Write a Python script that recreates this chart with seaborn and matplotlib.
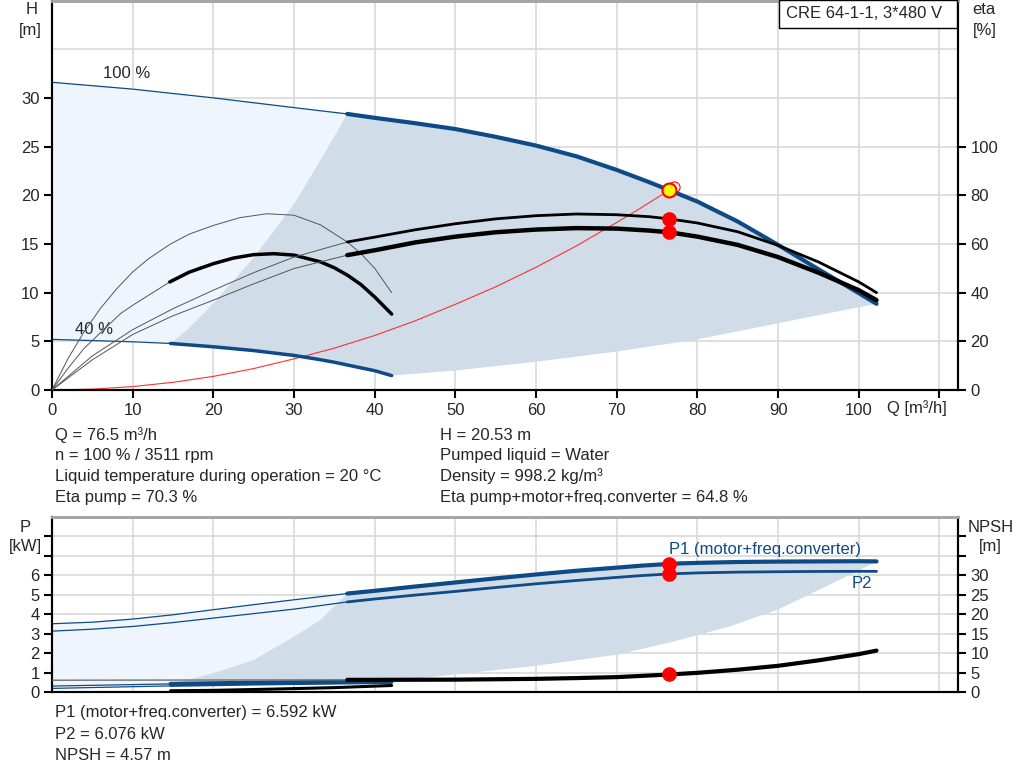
import matplotlib
matplotlib.use("Agg")
import matplotlib.pyplot as plt
import matplotlib.patches as patches
import seaborn as sns

# ---- operating point ----
q_op = 76.5
h_op = 20.53
eta_pump_op = 70.3
eta_total_op = 64.8
p1_op = 6.592
p2_op = 6.076
npsh_op = 4.57

# ---- head curves [m] ----
q_h100_thin = [0, 10, 20, 30, 36.6]
h_h100_thin = [31.6, 30.9, 30.0, 29.0, 28.35]
q_h100 = [36.6, 40, 45, 50, 55, 60, 65, 70, 74, 76.5, 80, 85, 90, 95, 100, 102.2]
h_h100 = [28.35, 27.95, 27.4, 26.8, 26.0, 25.1, 24.0, 22.6, 21.35, 20.53, 19.35,
          17.3, 14.9, 12.4, 9.95, 8.85]

q_h40_thin = [0, 10, 14.7]
h_h40_thin = [5.2, 4.95, 4.78]
q_h40 = [14.7, 20, 25, 30, 33, 35, 37, 40, 42.1]
h_h40 = [4.78, 4.44, 4.05, 3.55, 3.15, 2.85, 2.5, 1.98, 1.48]

# boundaries of the operating range
q_minflow = [14.7, 16.7, 20, 25, 30, 34.2, 36.6]
h_minflow = [4.78, 6.15, 8.9, 13.6, 19.1, 24.9, 28.35]
q_maxflow = [42.1, 50, 60, 70, 80, 90, 96, 102.2]
h_maxflow = [1.48, 2.0, 2.9, 3.95, 5.2, 6.85, 7.85, 8.85]

# system curve
q_sys = [0, 5, 10, 15, 20, 25, 30, 35, 40, 45, 50, 55, 60, 65, 70, 73, 76.5, 77.1]
h_sys = [0, 0.09, 0.35, 0.79, 1.4, 2.2, 3.2, 4.3, 5.6, 7.1, 8.8, 10.6, 12.6,
         14.8, 17.2, 18.7, 20.53, 20.85]

# ---- efficiency curves [%] ----
q_etap_thin = [0, 5, 10, 15, 20, 25, 30, 36.6]
etap_thin = [0, 14, 24.8, 33.4, 41, 48.2, 54.6, 60.8]
q_etap = [36.6, 40, 45, 50, 55, 60, 65, 70, 74, 76.5, 80, 85, 90, 95, 100, 102.2]
etap = [60.8, 62.8, 65.8, 68.3, 70.3, 71.6, 72.3, 72.0, 71.2, 70.3, 68.6, 65.0,
        59.4, 52.6, 44.4, 40.0]

q_etat_thin = [0, 5, 10, 15, 20, 25, 30, 36.6]
etat_thin = [0, 12.4, 22.8, 30.5, 36.9, 43.6, 49.9, 55.4]
q_etat = [36.6, 40, 45, 50, 55, 60, 65, 70, 74, 76.5, 80, 85, 90, 95, 100, 102.2]
etat = [55.4, 57.4, 60.6, 63.0, 64.8, 65.9, 66.5, 66.3, 65.5, 64.8, 63.0, 59.6,
        54.6, 48.2, 41.0, 36.9]

q_etap40 = [0, 2, 4, 6, 8, 10, 12, 14.7, 17, 20, 23.3, 26.6, 30, 33.3, 36.6,
            38.3, 40, 42.1]
etap40 = [0, 13, 24, 33.5, 41.5, 48.5, 54, 60, 64, 67.6, 70.8, 72.4, 71.8, 67.8,
          60.8, 56, 50, 40]

q_etat40_thin = [0, 2, 4, 8.5, 10, 14.6]
etat40_thin = [0, 9, 17.2, 31.4, 34.8, 44.4]
q_etat40 = [14.6, 17, 20, 22.5, 25, 27.5, 30, 33.3, 35, 36.6, 38.3, 40, 42.1]
etat40 = [44.4, 48.4, 51.9, 54.2, 55.6, 56.0, 55.4, 52.6, 50.2, 47.2, 43.3, 38.2, 31.2]

# ---- power curves [kW] ----
q_p_thin = [0, 5, 10, 15, 20, 25, 30, 36.6]
p1_thin = [3.52, 3.6, 3.76, 3.98, 4.24, 4.5, 4.75, 5.07]
p2_thin = [3.14, 3.24, 3.38, 3.58, 3.81, 4.04, 4.27, 4.64]
q_p = [36.6, 40, 45, 50, 55, 60, 65, 70, 73, 76.5, 78, 80, 85, 90, 95, 100, 102.2]
p1 = [5.07, 5.21, 5.43, 5.64, 5.85, 6.05, 6.24, 6.40, 6.50, 6.592, 6.62, 6.645,
      6.69, 6.71, 6.72, 6.73, 6.72]
p2 = [4.64, 4.79, 4.99, 5.18, 5.38, 5.57, 5.74, 5.90, 5.99, 6.076, 6.10, 6.13,
      6.17, 6.19, 6.205, 6.21, 6.21]

q_p40_thin = [0, 14.7]
p1_40_thin = [0.32, 0.43]
p2_40_thin = [0.2, 0.33]
q_p40 = [14.7, 25, 35, 42.1]
p1_40 = [0.43, 0.49, 0.53, 0.56]
p2_40 = [0.33, 0.40, 0.45, 0.48]

q_pmin = [14.7, 20, 25, 30, 33.3, 36.6]
p_pmin = [0.43, 0.98, 1.66, 2.86, 3.72, 5.07]
q_pmax = [42.1, 50, 60, 70, 77, 84, 90, 95, 100, 102.2]
p_pmax = [0.56, 0.92, 1.36, 1.93, 2.6, 3.38, 4.25, 5.25, 6.25, 6.72]

# ---- NPSH [m] ----
q_npsh_thin = [0, 36.6]
npsh_thin = [3.1, 3.2]
q_npsh = [36.6, 40, 50, 60, 65, 70, 73, 76.5, 80, 85, 90, 95, 100, 102.2]
npsh = [3.2, 3.2, 3.25, 3.45, 3.65, 3.9, 4.2, 4.57, 5.0, 5.8, 6.8, 8.2, 9.8, 10.7]
q_npsh40 = [14.7, 20, 27, 35, 42.1]
npsh40 = [0.4, 0.5, 0.8, 1.2, 1.75]

BLUE = "#0d4a86"
PALE = "#eef5fc"
SHADE = "#d0dce7"
GRID = "#d9d9d9"
FS = 12

sns.set_theme(style="white")
plt.rcParams["font.family"] = ["Liberation Sans", "DejaVu Sans"]
plt.rcParams["font.size"] = FS

W, H = 1024, 781
fig = plt.figure(figsize=(W / 100, H / 100), dpi=100)


def fx(px):
    return px / W


def fy(py):
    return 1 - py / H


def line(ax, x, y, color="black", lw=1.0, z=3):
    sns.lineplot(x=x, y=y, ax=ax, color=color, linewidth=lw, sort=False,
                 estimator=None, zorder=z, legend=False)


def style_axes(ax, xmax, ymax):
    ax.set_xlim(0, xmax)
    ax.set_ylim(0, ymax)
    for s in ["left", "bottom", "right"]:
        ax.spines[s].set_color("black")
        ax.spines[s].set_linewidth(1.5)
    ax.spines["top"].set_color("#a6a6a6")
    ax.spines["top"].set_linewidth(2)
    ax.set_xlabel("")
    ax.set_ylabel("")


# ================= top: head / efficiency =================
ax = fig.add_axes([fx(52), fy(390), fx(958) - fx(52), fy(0.5) - fy(390)])
ax2 = ax.twinx()

ax.fill(q_h100_thin + q_minflow[::-1] + q_h40_thin[::-1],
        h_h100_thin + h_minflow[::-1] + h_h40_thin[::-1],
        color=PALE, lw=0, zorder=1)
ax.fill(q_h100 + q_maxflow[::-1] + q_h40[::-1] + q_minflow,
        h_h100 + h_maxflow[::-1] + h_h40[::-1] + h_minflow,
        color=SHADE, lw=0, zorder=1)

ax.set_xticks(range(0, 120, 10))
ax.set_xticklabels([str(v) for v in range(0, 110, 10)] + [""])
ax.set_yticks(range(0, 35, 5))
ax.set_yticks([35], minor=True)
ax.grid(True, which="both", color=GRID, linewidth=1.2, zorder=0)
ax.set_axisbelow(True)
ax.tick_params(which="major", direction="out", length=6, width=1.5,
               color="black", left=True, bottom=True, labelsize=FS, pad=3)
ax.tick_params(which="minor", length=0)

line(ax, q_h100_thin, h_h100_thin, BLUE, 0.9)
line(ax, q_h100, h_h100, BLUE, 3.0, 4)
line(ax, q_h40_thin, h_h40_thin, BLUE, 0.9)
line(ax, q_h40, h_h40, BLUE, 2.5, 4)
line(ax, q_sys, h_sys, "#ff3030", 0.8, 3)
style_axes(ax, 112.3, 40)

ax2.set_ylim(0, 160)
ax2.set_yticks(range(0, 120, 20))
ax2.tick_params(direction="out", length=6, width=1.5, color="black",
                right=True, labelsize=FS, pad=3)
ax2.grid(False)
line(ax2, q_etap40, etap40, "#555555", 0.7)
line(ax2, q_etat40_thin, etat40_thin, "#555555", 0.7)
line(ax2, q_etat40, etat40, "black", 2.5)
line(ax2, q_etap_thin, etap_thin, "#555555", 0.7)
line(ax2, q_etat_thin, etat_thin, "#555555", 0.7)
line(ax2, q_etap, etap, "black", 2.0)
line(ax2, q_etat, etat, "black", 3.2)
style_axes(ax2, 112.3, 160)

ax2.plot([q_op, q_op], [eta_pump_op, eta_total_op], "o", color="red",
         markersize=9.5, zorder=6)
ax2.plot([77.1], [20.85], "o", mfc="none", mec="red", mew=0.8,
         markersize=8, transform=ax.transData, zorder=6)
ax2.plot([q_op], [h_op], "o", mfc="#ffff00", mec="red", mew=1.5,
         markersize=10, transform=ax.transData, zorder=7)

ax.text(6.36, 32.5, "100 %", ha="left", va="center", fontsize=FS, zorder=8)
ax.text(2.9, 6.25, "40 %", ha="left", va="center", fontsize=FS, zorder=8)

# product box
fig.patches.append(patches.Rectangle((fx(779), fy(28)), fx(957) - fx(779),
                                     fy(0) - fy(28), transform=fig.transFigure,
                                     fc="white", ec="black", lw=1, zorder=10))
fig.text(fx(786), fy(14), "CRE 64-1-1, 3*480 V", ha="left", va="center",
         fontsize=FS, zorder=11)

fig.text(fx(32), fy(10), "H", ha="center", va="center", fontsize=FS)
fig.text(fx(30), fy(30), "[m]", ha="center", va="center", fontsize=FS)
fig.text(fx(984), fy(10), "eta", ha="center", va="center", fontsize=FS)
fig.text(fx(985), fy(30), "[%]", ha="center", va="center", fontsize=FS)
fig.text(fx(917), fy(408), "Q [m³/h]", ha="center", va="center", fontsize=FS)

# ================= info text =================
left_lines = ["Q = 76.5 m³/h", "n = 100 % / 3511 rpm",
              "Liquid temperature during operation = 20 °C", "Eta pump = 70.3 %"]
right_lines = ["H = 20.53 m", "Pumped liquid = Water", "Density = 998.2 kg/m³",
               "Eta pump+motor+freq.converter = 64.8 %"]
for i, (a, b) in enumerate(zip(left_lines, right_lines)):
    yy = 435 + i * 20.7
    fig.text(fx(55), fy(yy), a, ha="left", va="center", fontsize=FS)
    fig.text(fx(440), fy(yy), b, ha="left", va="center", fontsize=FS)

bottom_lines = ["P1 (motor+freq.converter) = 6.592 kW", "P2 = 6.076 kW",
                "NPSH = 4.57 m"]
for i, s in enumerate(bottom_lines):
    fig.text(fx(55), fy(713 + i * 21.5), s, ha="left", va="center", fontsize=FS)

# ================= bottom: power / NPSH =================
bx = fig.add_axes([fx(52), fy(692.3), fx(958) - fx(52), fy(517) - fy(692.3)])
bx2 = bx.twinx()

bx.fill(q_p_thin + q_pmin[::-1] + q_p40_thin[::-1],
        p1_thin + p_pmin[::-1] + p1_40_thin[::-1],
        color=PALE, lw=0, zorder=1)
bx.fill(q_p + q_pmax[::-1] + q_p40[::-1] + q_pmin,
        p1 + p_pmax[::-1] + p1_40[::-1] + p_pmin,
        color=SHADE, lw=0, zorder=1)

bx.set_xticks(range(0, 120, 10))
bx.set_xticklabels([])
bx.set_yticks(range(0, 9))
bx.set_yticklabels([str(v) for v in range(0, 7)] + ["", ""])
bx.grid(True, color=GRID, linewidth=1.2, zorder=0)
bx.set_axisbelow(True)
bx.tick_params(axis="y", direction="out", length=6, width=1.5, color="black",
               left=True, labelsize=FS, pad=3)
bx.tick_params(axis="x", length=0)

line(bx, q_p_thin, p1_thin, BLUE, 0.9)
line(bx, q_p_thin, p2_thin, BLUE, 0.9)
line(bx, q_p, p1, BLUE, 3.0, 4)
line(bx, q_p, p2, BLUE, 2.0, 4)
line(bx, q_p40_thin, p1_40_thin, BLUE, 0.9)
line(bx, q_p40_thin, p2_40_thin, BLUE, 0.9)
line(bx, q_p40, p1_40, BLUE, 3.0, 4)
line(bx, q_p40, p2_40, BLUE, 1.5, 4)
style_axes(bx, 112.3, 9)
bx.plot([q_op, q_op], [p1_op, p2_op], "o", color="red", markersize=9.5, zorder=6)

bx2.set_ylim(0, 45)
bx2.set_yticks(range(0, 45, 5))
bx2.set_yticklabels([str(v) for v in range(0, 35, 5)] + ["", ""])
bx2.tick_params(direction="out", length=6, width=1.5, color="black",
                right=True, labelsize=FS, pad=3)
bx2.grid(False)
line(bx2, q_npsh_thin, npsh_thin, "#707070", 1.0)
line(bx2, q_npsh, npsh, "black", 3.0)
line(bx2, q_npsh40, npsh40, "black", 2.2)
style_axes(bx2, 112.3, 45)
bx2.plot([q_op], [npsh_op], "o", color="red", markersize=9.5, zorder=6)

bx.text(76.5, 7.32, "P1 (motor+freq.converter)", color=BLUE, ha="left",
        va="center", fontsize=FS, zorder=8)
bx.text(99.1, 5.57, "P2", color=BLUE, ha="left", va="center",
        fontsize=FS, zorder=8)

fig.text(fx(25), fy(528), "P", ha="center", va="center", fontsize=FS)
fig.text(fx(25), fy(547), "[kW]", ha="center", va="center", fontsize=FS)
fig.text(fx(991), fy(528), "NPSH", ha="center", va="center", fontsize=FS)
fig.text(fx(990), fy(547), "[m]", ha="center", va="center", fontsize=FS)

fig.savefig("out.png", dpi=100)
